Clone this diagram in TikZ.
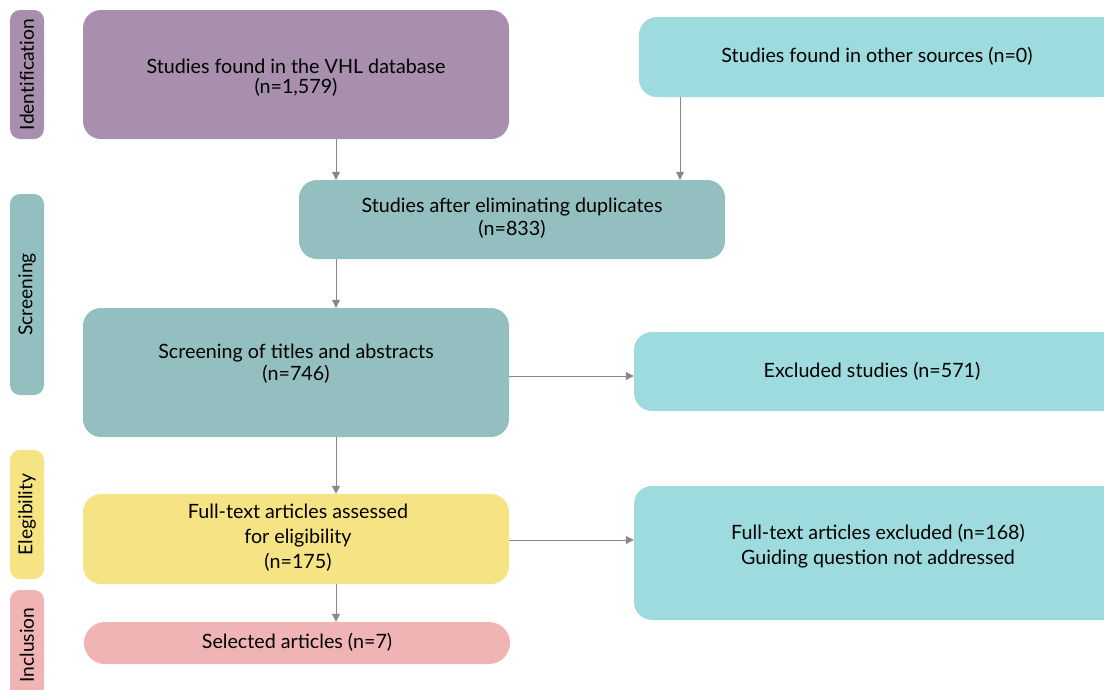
\documentclass[tikz,border=0pt]{standalone}
\usepackage{fontspec}
\setmainfont{Lato}
\newfontfamily\sidefont{Lato}[Ligatures=NoCommon]
\usetikzlibrary{arrows.meta}
\definecolor{cpurple}{HTML}{A88FAD}
\definecolor{cteal}{HTML}{93BFC0}
\definecolor{ccyan}{HTML}{9EDBDE}
\definecolor{cyellow}{HTML}{F6E484}
\definecolor{cpink}{HTML}{EFB4B3}
\definecolor{carrow}{HTML}{888888}
\tikzset{
  box/.style={rounded corners=18pt, inner sep=0pt, align=center, text=black},
  side/.style={rounded corners=10pt, inner sep=0pt, text=black, rotate=90,
    font=\sidefont\fontsize{19.2}{22}\selectfont},
  txt/.style={align=center, inner sep=0pt, text=black, font=\fontsize{19.7}{22}\selectfont},
  flow/.style={draw=carrow, line width=1pt, -{Triangle[length=8pt,width=8pt]}}
}
\begin{document}
\begin{tikzpicture}[x=1pt,y=-1pt]
\useasboundingbox (0,0) rectangle (1104,689);
% side labels
\node[side, fill=cpurple, minimum width=129, minimum height=34] (sid) at (27,74.5) {Identification};
\node[side, fill=cteal, minimum width=201, minimum height=34] (sscr) at (27,294.5) {Screening};
\node[side, fill=cyellow, minimum width=129, minimum height=34] (selg) at (27,514.5) {Elegibility};
\node[side, fill=cpink, minimum width=110, minimum height=34] (sinc) at (27,645) {Inclusion};
% main boxes
\node[box, fill=cpurple, minimum width=426, minimum height=129] (vhl) at (296,74.5) {};
\node[txt, font=\fontsize{19.7}{20}\selectfont] (vhltxt) at (296,78) {Studies found in the VHL database\\(n=1,579)};
\node[box, fill=ccyan, minimum width=480, minimum height=80] (other) at (879,57) {};
\node[txt] (othertxt) at (877,56) {Studies found in other sources (n=0)};
\node[box, fill=cteal, minimum width=426, minimum height=79] (dup) at (512,219.5) {};
\node[txt, font=\fontsize{19.7}{23}\selectfont] (duptxt) at (512,218.5) {Studies after eliminating duplicates\\(n=833)};
\node[box, fill=cteal, minimum width=426, minimum height=129] (scr) at (296,372.5) {};
\node[txt] (scrtxt) at (296,364) {Screening of titles and abstracts\\(n=746)};
\node[box, fill=ccyan, minimum width=490, minimum height=79] (exc) at (879,371.5) {};
\node[txt] (exctxt) at (872,371) {Excluded studies (n=571)};
\node[box, fill=cyellow, minimum width=426, minimum height=90] (ful) at (296,539) {};
\node[txt, font=\fontsize{19.7}{25}\selectfont] (fultxt) at (298,538) {Full-text articles assessed\\for eligibility\\(n=175)};
\node[box, fill=ccyan, minimum width=490, minimum height=134] (fex) at (879,553) {};
\node[txt, font=\fontsize{19.7}{25}\selectfont] (fextxt) at (878,546.5) {Full-text articles excluded (n=168)\\Guiding question not addressed};
\node[box, rounded corners=21pt, fill=cpink, minimum width=426, minimum height=42] (sel) at (297,643) {};
\node[txt] (seltxt) at (297,642) {Selected articles (n=7)};
% connectors
\draw[flow] (vhl.south -| 336,0) -- (dup.north -| 336,0);
\draw[flow] (other.south -| 680,0) -- (dup.north -| 680,0);
\draw[flow] (dup.south -| 336,0) -- (scr.north -| 336,0);
\draw[flow] (scr.east |- 0,376) -- (exc.west |- 0,376);
\draw[flow] (scr.south -| 336,0) -- (ful.north -| 336,0);
\draw[flow] (ful.east |- 0,540) -- (fex.west |- 0,540);
\draw[flow] (ful.south -| 336,0) -- (sel.north -| 336,0);
\end{tikzpicture}
\end{document}
